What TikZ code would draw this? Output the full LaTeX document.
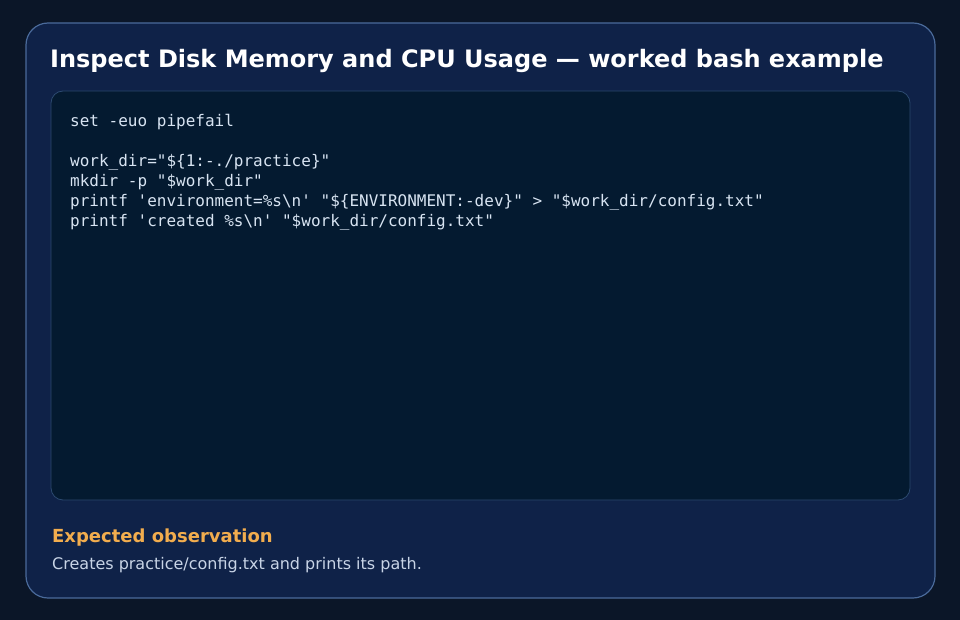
\documentclass[tikz,border=0pt]{standalone}
\usepackage{fontspec}
\setmainfont{DejaVu Sans}
\newfontfamily\codefont{DejaVu Sans Mono}
\definecolor{bg}{HTML}{0B1628}
\definecolor{card}{HTML}{0F2248}
\definecolor{cardborder}{HTML}{4A6A9A}
\definecolor{codebg}{HTML}{041A30}
\definecolor{codeborder}{HTML}{2C4A70}
\definecolor{codetext}{HTML}{D8E4F2}
\definecolor{orangeh}{HTML}{F2AD4E}
\definecolor{bodytext}{HTML}{C8D4E6}
\begin{document}
\begin{tikzpicture}[x=1pt,y=-1pt,
  code/.style={anchor=base west,inner sep=0pt,text=codetext,font=\codefont\fontsize{16}{18}\selectfont}]
\fill[bg] (0,0) rectangle (960,620);
\useasboundingbox (0,0) rectangle (960,620);
\draw[card,fill=card,draw=cardborder,line width=1.2pt,rounded corners=22pt] (26,23) rectangle (935,598);
\draw[fill=codebg,draw=codeborder,line width=0.8pt,rounded corners=12pt] (51,91) rectangle (910,500);
\node[anchor=base west,inner sep=0pt,text=white,font=\bfseries\fontsize{24}{28}\selectfont] (title) at (50,68) {Inspect Disk Memory and CPU Usage — worked bash example};
\node[code] (l1) at (70,127) {set -euo pipefail};
\node[code] (l2) at (70,167) {work\_dir="\$\{1:-./practice\}"};
\node[code] (l3) at (70,187) {mkdir -p "\$work\_dir"};
\node[code] (l4) at (70,207) {printf 'environment=\%s\textbackslash n' "\$\{ENVIRONMENT:-dev\}" > "\$work\_dir/config.txt"};
\node[code] (l5) at (70,227) {printf 'created \%s\textbackslash n' "\$work\_dir/config.txt"};
\node[anchor=base west,inner sep=0pt,text=orangeh,font=\bfseries\fontsize{18}{20}\selectfont] (eh) at (52,542) {Expected observation};
\node[anchor=base west,inner sep=0pt,text=bodytext,font=\fontsize{16}{18}\selectfont] (eb) at (52,569) {Creates practice/config.txt and prints its path.};
\end{tikzpicture}
\end{document}
